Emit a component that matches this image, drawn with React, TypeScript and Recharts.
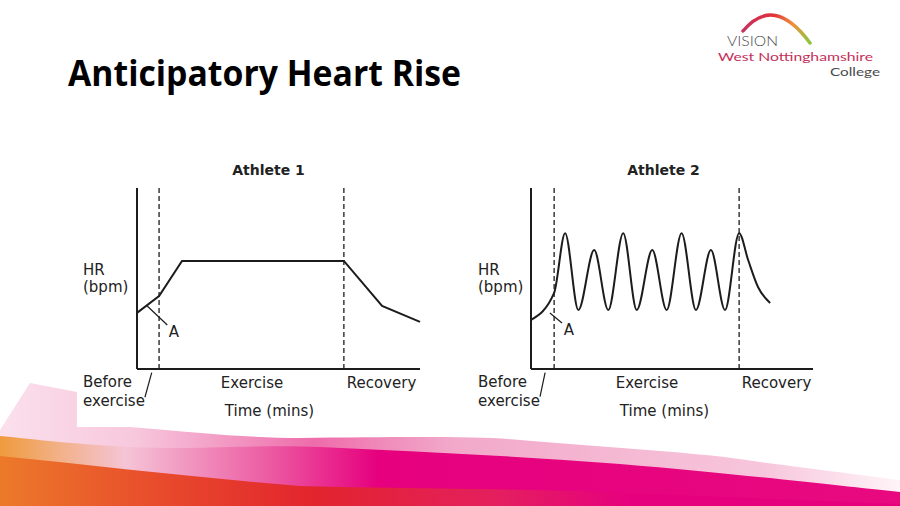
import { LineChart, Line, XAxis, YAxis, ReferenceLine } from 'recharts';

// Athlete 1: steady climb, plateau, then recovery (arbitrary HR units, 0-100)
const athlete1Time = [0, 7.8, 15.9, 73.1, 86.6, 100];
const athlete1HR = [31, 40.3, 59.7, 59.7, 34.8, 26];
const athlete1Phases = [7.8, 73.1];

// Athlete 2: anticipatory curve then oscillating HR during exercise
const athlete2Time = [0, 8.2, 12.1, 16.8, 22.4, 27.4, 32.7, 37.5, 43.0, 48.1, 53.4, 58.5, 63.8, 68.8, 73.8, 77.0, 80.5, 84.8];
const athlete2HR = [27.1, 42, 75, 32.6, 65.7, 32.6, 75, 32.6, 65.7, 32.6, 75, 32.6, 65.7, 32.6, 75, 60.2, 45.3, 36.5];
const athlete2Phases = [8.2, 73.8];

// annotation strokes in data units: "A" pointer and the "before exercise" slash
const athlete1Pointer = [{ x: 3.6, y: 34.8 }, { x: 10.7, y: 24.3 }];
const athlete1Slash = [{ x: 5.2, y: -2 }, { x: 2.8, y: -15.6 }];
const athlete2Pointer = [{ x: 6.7, y: 30.9 }, { x: 11.0, y: 25.4 }];
const athlete2Slash = [{ x: 5.0, y: -2 }, { x: 3.2, y: -15.3 }];

const ink = '#1c1c1c';
const labelFont = '"DejaVu Sans", sans-serif';
const logoFont = 'Lato, sans-serif';

function HeartChart({
  time,
  hr,
  phases,
  pointer,
  slash,
  curve,
  margin,
}: {
  time: number[];
  hr: number[];
  phases: number[];
  pointer: { x: number; y: number }[];
  slash: { x: number; y: number }[];
  curve: 'linear' | 'monotone';
  margin: { top: number; right: number; bottom: number; left: number };
}) {
  const data = time.map((t, i) => ({ t, hr: hr[i] }));
  return (
    <LineChart width={360} height={280} data={data} margin={margin}>
      <XAxis dataKey="t" type="number" domain={[0, 100]} hide />
      <YAxis type="number" domain={[0, 100]} hide />
      {/* axes drawn as reference lines so they sit exactly on the plot edges */}
      <ReferenceLine x={0} stroke={ink} strokeWidth={2} />
      <ReferenceLine y={0} stroke={ink} strokeWidth={2} />
      {phases.map((p) => (
        <ReferenceLine key={p} x={p} stroke={ink} strokeWidth={1.3} strokeDasharray="5 3" />
      ))}
      <ReferenceLine segment={pointer} stroke={ink} strokeWidth={1.2} ifOverflow="visible" />
      <ReferenceLine segment={slash} stroke={ink} strokeWidth={1.2} ifOverflow="visible" />
      <Line
        dataKey="hr"
        type={curve}
        stroke={ink}
        strokeWidth={2}
        dot={false}
        isAnimationActive={false}
      />
    </LineChart>
  );
}

function Labels({ dx, aX, aY }: { dx: number; aX: number; aY: number }) {
  const s = { fontFamily: labelFont, fontSize: 15, fill: '#222' };
  return (
    <g>
      <text x={268.5 + dx} y={175} textAnchor="middle" fontFamily={labelFont} fontWeight="bold" fontSize={14} fill="#222">
        {dx === 0 ? 'Athlete 1' : 'Athlete 2'}
      </text>
      <text x={83 + dx} y={275} {...s}>HR</text>
      <text x={83 + dx} y={292} {...s}>(bpm)</text>
      <text x={aX} y={aY} textAnchor="middle" {...s}>A</text>
      <text x={83 + dx} y={387} {...s}>Before</text>
      <text x={83 + dx} y={406} {...s}>exercise</text>
      <text x={252 + dx} y={388} textAnchor="middle" {...s}>Exercise</text>
      <text x={381.5 + dx} y={388} textAnchor="middle" {...s}>Recovery</text>
      <text x={269.5 + dx} y={416} textAnchor="middle" {...s}>Time (mins)</text>
    </g>
  );
}

function Slide() {
  return (
    <svg width={900} height={506} style={{ position: 'absolute', left: 0, top: 0 }}>
      <defs>
        <linearGradient id="paleBand" x1="0" y1="0" x2="1" y2="0">
          <stop offset="0" stopColor="#fbe0ec" />
          <stop offset="0.15" stopColor="#f7c8dc" />
          <stop offset="0.35" stopColor="#ee6cab" />
          <stop offset="0.5" stopColor="#f2a8c9" />
          <stop offset="0.85" stopColor="#f7c6dc" />
          <stop offset="1" stopColor="#fff4f8" />
        </linearGradient>
        <linearGradient id="midBand" x1="0" y1="0" x2="1" y2="0">
          <stop offset="0" stopColor="#ef9a3c" />
          <stop offset="0.07" stopColor="#f2b28c" />
          <stop offset="0.14" stopColor="#f5c4d6" />
          <stop offset="0.3" stopColor="#ec5aa2" />
          <stop offset="0.42" stopColor="#e6007e" />
          <stop offset="1" stopColor="#e8097f" />
        </linearGradient>
        <linearGradient id="lowBand" x1="0" y1="0" x2="1" y2="0">
          <stop offset="0" stopColor="#ec7a2a" />
          <stop offset="0.18" stopColor="#e84a2c" />
          <stop offset="0.35" stopColor="#e2242e" />
          <stop offset="0.55" stopColor="#e41f5e" />
          <stop offset="0.7" stopColor="#e6007e" />
          <stop offset="1" stopColor="#e6007e" />
        </linearGradient>
        <linearGradient id="logoArc" x1="0" y1="0" x2="1" y2="0">
          <stop offset="0" stopColor="#c8325e" />
          <stop offset="0.45" stopColor="#e0303c" />
          <stop offset="0.75" stopColor="#f0903a" />
          <stop offset="1" stopColor="#8cc63f" />
        </linearGradient>
      </defs>
      <rect x={0} y={0} width={900} height={506} fill="#ffffff" />
      {/* bottom swoosh */}
      <path
        d="M30 383 L77 392 L77 427 L130 427 C200 433 250 438 300 438 C400 437 480 436 520 440 C600 447 700 452 760 462 C820 470 870 476 900 480 L900 506 L0 506 L0 430 Z"
        fill="url(#paleBand)"
      />
      <path
        d="M0 436 C60 442 110 448 180 448 C240 447 280 445 320 447 C420 452 520 456 620 464 C740 474 840 486 900 492 L900 506 L0 506 Z"
        fill="url(#midBand)"
      />
      <path
        d="M0 456 C100 466 200 478 300 486 C400 489 500 488 600 492 C700 496 800 500 900 504 L900 506 L0 506 Z"
        fill="url(#lowBand)"
      />
      {/* white chart card */}
      <rect x={77} y={130} width={760} height={297} fill="#ffffff" />
      {/* title */}
      <text x={68} y={86} fontFamily='"Open Sans", sans-serif' fontWeight="bold" fontSize={36} fill="#000" textLength={393} lengthAdjust="spacingAndGlyphs">
        Anticipatory Heart Rise
      </text>
      {/* logo */}
      <path d="M743 31 Q774 -6 810 43" fill="none" stroke="url(#logoArc)" strokeWidth={3.5} strokeLinecap="round" />
      <text x={727} y={46} fontFamily={logoFont} fontWeight={300} fontSize={13} fill="#4a4a4a" textLength={51} lengthAdjust="spacingAndGlyphs">VISION</text>
      <text x={718} y={61} fontFamily={logoFont} fontSize={12} fill="#c4305c" textLength={155} lengthAdjust="spacingAndGlyphs">West Nottinghamshire</text>
      <text x={830} y={75.5} fontFamily={logoFont} fontSize={12} fill="#4a4a4a" textLength={50} lengthAdjust="spacingAndGlyphs">College</text>
      <Labels dx={0} aX={174} aY={337} />
      <Labels dx={395} aX={569} aY={335} />
    </svg>
  );
}

export default function App() {
  return (
    <div style={{ position: 'absolute', left: 0, top: 0, width: 900, height: 506, overflow: 'hidden', background: '#fff' }}>
      <Slide />
      <div style={{ position: 'absolute', left: 70, top: 150 }}>
        <HeartChart
          time={athlete1Time}
          hr={athlete1HR}
          phases={athlete1Phases}
          pointer={athlete1Pointer}
          slash={athlete1Slash}
          curve="linear"
          margin={{ top: 38, right: 10, bottom: 61, left: 67 }}
        />
      </div>
      <div style={{ position: 'absolute', left: 465, top: 150 }}>
        <HeartChart
          time={athlete2Time}
          hr={athlete2HR}
          phases={athlete2Phases}
          pointer={athlete2Pointer}
          slash={athlete2Slash}
          curve="monotone"
          margin={{ top: 38, right: 12, bottom: 61, left: 66 }}
        />
      </div>
    </div>
  );
}
